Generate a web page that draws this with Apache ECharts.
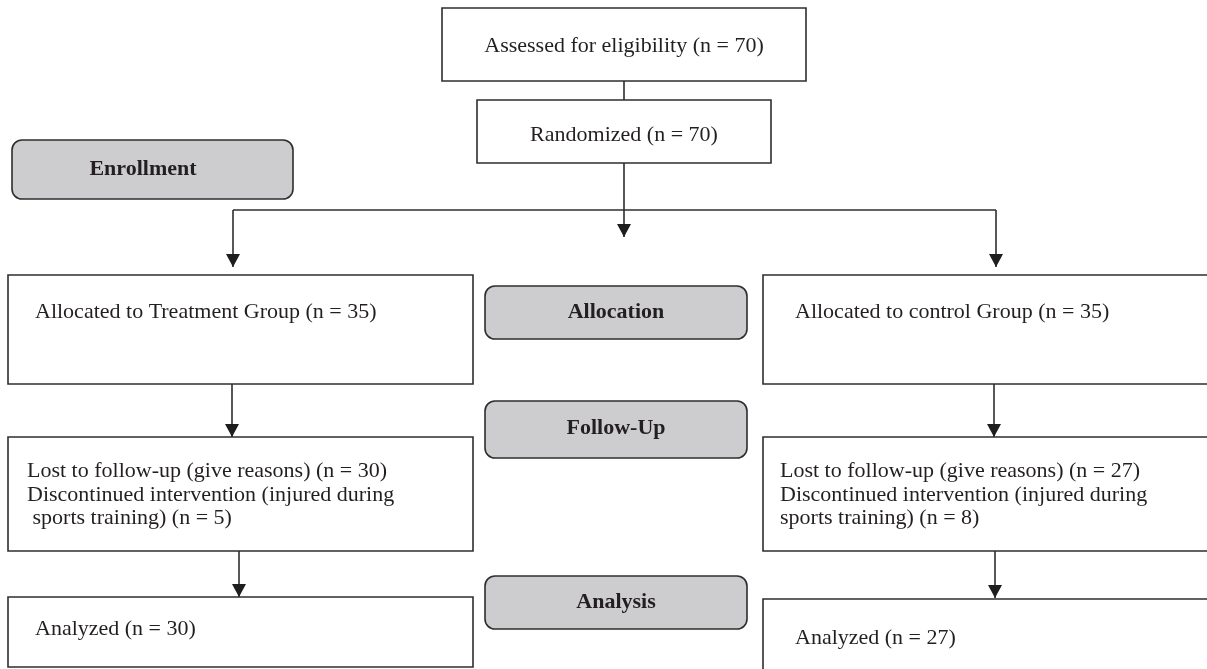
<!DOCTYPE html>
<html>
<head>
<meta charset="utf-8">
<script src="https://cdn.jsdelivr.net/npm/echarts@6/dist/echarts.min.js"></script>
<style>
html,body{margin:0;padding:0;background:#ffffff;}
#chart{width:1207px;height:669px;}
</style>
</head>
<body>
<div id="chart"></div>
<script>
// ---------------- data ----------------
const assessedN = 70;
const randomizedN = 70;
const groupNames = ['Treatment Group', 'control Group'];
const allocatedN = [35, 35];
const lostN = [30, 27];
const discontinuedN = [5, 8];
const analyzedN = [30, 27];
const stageNames = ['Enrollment', 'Allocation', 'Follow-Up', 'Analysis'];

// box texts built from the data
const boxTexts = [
  'Assessed for eligibility (n = ' + assessedN + ')',
  'Randomized (n = ' + randomizedN + ')',
  'Allocated to ' + groupNames[0] + ' (n = ' + allocatedN[0] + ')',
  'Allocated to ' + groupNames[1] + ' (n = ' + allocatedN[1] + ')',
  'Lost to follow-up (give reasons) (n = ' + lostN[0] + ')\nDiscontinued intervention (injured during\n sports training) (n = ' + discontinuedN[0] + ')',
  'Lost to follow-up (give reasons) (n = ' + lostN[1] + ')\nDiscontinued intervention (injured during\nsports training) (n = ' + discontinuedN[1] + ')',
  'Analyzed (n = ' + analyzedN[0] + ')',
  'Analyzed (n = ' + analyzedN[1] + ')'
];

// ---------------- layout (diagram coordinates, not data) ----------------
const boxRects = [
  [442, 8, 806, 81],
  [477, 100, 771, 163],
  [8, 275, 473, 384],
  [763, 275, 1215, 384],
  [8, 437, 473, 551],
  [763, 437, 1215, 551],
  [8, 597, 473, 667],
  [763, 599, 1215, 690]
];
const boxTextPos = [
  [624, 46, 'center'],
  [624, 135, 'center'],
  [35, 312, 'left'],
  [795, 312, 'left'],
  [27, 495, 'left'],
  [780, 495, 'left'],
  [35, 629, 'left'],
  [795, 638, 'left']
];
const stageRects = [
  [12, 140, 293, 199],
  [485, 286, 747, 339],
  [485, 401, 747, 458],
  [485, 576, 747, 629]
];
const stageTextPos = [
  [143, 169],
  [616, 312],
  [616, 428],
  [616, 602]
];
const connectors = [
  { pts: [[624, 81], [624, 100]], arrow: false },
  { pts: [[624, 163], [624, 237]], arrow: true },
  { pts: [[233, 210], [996, 210]], arrow: false },
  { pts: [[233, 210], [233, 267]], arrow: true },
  { pts: [[996, 210], [996, 267]], arrow: true },
  { pts: [[232, 384], [232, 437]], arrow: true },
  { pts: [[994, 384], [994, 437]], arrow: true },
  { pts: [[239, 551], [239, 597]], arrow: true },
  { pts: [[995, 551], [995, 598]], arrow: true }
];

// ---------------- styles ----------------
const LINE = '#2e2e2e';
const TEXT = '#231f20';
const GRAY = '#cdcdcf';
const FONT = '"Liberation Serif", "DejaVu Serif", serif';

const chart = echarts.init(document.getElementById('chart'), null, { renderer: 'canvas' });

function renderBox(params, api) {
  const i = params.dataIndex;
  const p0 = api.coord([api.value(0), api.value(1)]);
  const p1 = api.coord([api.value(2), api.value(3)]);
  const t = api.coord([boxTextPos[i][0], boxTextPos[i][1]]);
  return {
    type: 'group',
    children: [
      {
        type: 'rect',
        shape: { x: p0[0], y: p0[1], width: p1[0] - p0[0], height: p1[1] - p0[1] },
        style: { fill: '#ffffff', stroke: LINE, lineWidth: 1.6 }
      },
      {
        type: 'text',
        x: t[0], y: t[1],
        style: {
          text: boxTexts[i],
          font: '22px ' + FONT,
          fill: TEXT,
          align: boxTextPos[i][2],
          verticalAlign: 'middle',
          lineHeight: 23.5
        }
      }
    ]
  };
}

function renderStage(params, api) {
  const i = params.dataIndex;
  const p0 = api.coord([api.value(0), api.value(1)]);
  const p1 = api.coord([api.value(2), api.value(3)]);
  const t = api.coord([stageTextPos[i][0], stageTextPos[i][1]]);
  return {
    type: 'group',
    children: [
      {
        type: 'rect',
        shape: { x: p0[0], y: p0[1], width: p1[0] - p0[0], height: p1[1] - p0[1], r: 10 },
        style: { fill: GRAY, stroke: LINE, lineWidth: 1.6 }
      },
      {
        type: 'text',
        x: t[0], y: t[1],
        style: {
          text: stageNames[i],
          font: 'bold 22px ' + FONT,
          fill: TEXT,
          align: 'center',
          verticalAlign: 'middle'
        }
      }
    ]
  };
}

function renderConnector(params, api) {
  const c = connectors[params.dataIndex];
  const pts = c.pts.map(function (p) { return api.coord(p); });
  const children = [{
    type: 'polyline',
    shape: { points: pts },
    style: { stroke: LINE, lineWidth: 1.6, fill: null }
  }];
  if (c.arrow) {
    const tip = pts[pts.length - 1];
    const w = 7, h = 13;
    children.push({
      type: 'polygon',
      shape: { points: [[tip[0] - w, tip[1] - h], [tip[0] + w, tip[1] - h], [tip[0], tip[1]]] },
      style: { fill: '#1e1e1e', stroke: null }
    });
  }
  return { type: 'group', children: children };
}

const option = {
  backgroundColor: '#ffffff',
  animation: false,
  grid: { left: 0, right: 0, top: 0, bottom: 0, containLabel: false },
  xAxis: { type: 'value', min: 0, max: 1207, show: false },
  yAxis: { type: 'value', min: 0, max: 669, inverse: true, show: false },
  series: [
    {
      type: 'custom',
      name: 'connectors',
      renderItem: renderConnector,
      data: connectors.map(function (c) { return [c.pts[0][0], c.pts[0][1]]; }),
      encode: { x: 0, y: 1 },
      silent: true,
      z: 1
    },
    {
      type: 'custom',
      name: 'boxes',
      renderItem: renderBox,
      data: boxRects,
      encode: { x: [0, 2], y: [1, 3] },
      silent: true,
      z: 2
    },
    {
      type: 'custom',
      name: 'stages',
      renderItem: renderStage,
      data: stageRects,
      encode: { x: [0, 2], y: [1, 3] },
      silent: true,
      z: 2
    }
  ]
};

chart.setOption(option);
</script>
</body>
</html>
